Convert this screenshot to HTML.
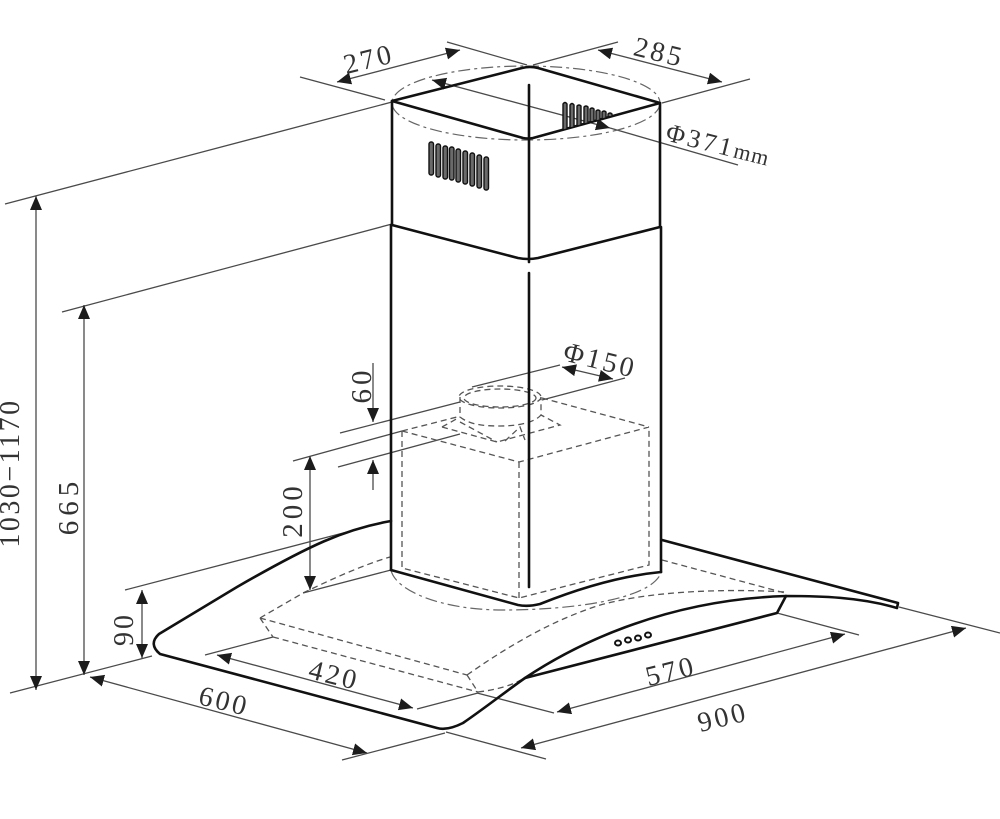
<!DOCTYPE html>
<html><head><meta charset="utf-8"><style>
html,body{margin:0;padding:0;background:#fff}
svg{display:block;filter:blur(0.35px)}
text{font-family:"Liberation Serif","DejaVu Serif",serif;font-size:28px;fill:#333;text-anchor:middle;letter-spacing:3px}
.t{fill:none;stroke:#111;stroke-width:2.6;stroke-linejoin:round;stroke-linecap:round}
.d{fill:none;stroke:#4a4a4a;stroke-width:1.3}
.a{marker-start:url(#ar);marker-end:url(#ar)}
.k{fill:none;stroke:#555;stroke-width:1.3;stroke-dasharray:6 4}
.c{fill:none;stroke:#666;stroke-width:1.2;stroke-dasharray:12 4 3 4}
.s{fill:#6a6a6a;stroke:#111;stroke-width:1.4}
</style></head><body>
<svg width="1000" height="819" viewBox="0 0 1000 819" xmlns="http://www.w3.org/2000/svg">
<defs><marker id="ar" markerUnits="userSpaceOnUse" markerWidth="15" markerHeight="13" refX="14" refY="6" orient="auto-start-reverse"><path d="M0,0L14,6L0,12z" fill="#1c1c1c"/></marker></defs>
<rect width="1000" height="819" fill="#fff"/>

<!-- extension lines -->
<path class="d" d="M300,77L385,100M447,42L527,65M533,65L618,42M662,103L750,79M392,102L5,204M392,224L62,312M10,693L152,656M125,590L347,532M205,655L273,637M417,709L478,693M342,760L445,733M446,732L546,759M477,693L554,713M777,613L859,635M899,607L1000,633M472,387L560,365M542,400L625,378M340,433L460,402M293,461L402,431M338,467L460,434"/>

<!-- dimension arrows -->
<path class="d a" d="M337,82L460,50"/>
<path class="d a" d="M598,50L722,82"/>
<path class="d a" d="M432,80L610,128"/>
<path class="d" d="M610,128L738,165"/>
<path class="d a" d="M36,196L36,690"/>
<path class="d a" d="M84,305L84,675"/>
<path class="d a" d="M310,456L310,590"/>
<path class="d a" d="M142,590L142,658"/>
<path class="d a" d="M90,677L367,753"/>
<path class="d a" d="M217,655L413,708"/>
<path class="d a" d="M557,712L845,634"/>
<path class="d a" d="M521,748L966,628"/>
<path class="d a" d="M562,367L613,379"/>
<path class="d" d="M373,363L373,422" marker-end="url(#ar)"/>
<path class="d" d="M373,490L373,460" marker-end="url(#ar)"/>

<!-- hidden lines -->
<ellipse class="c" cx="526" cy="103" rx="134" ry="37"/>
<path class="c" d="M391,570C395,590 440,610 503,610C570,610 650,600 661,573"/>
<path class="k" d="M402,431L519,462L649,427M402,431L457,417M542,398L649,427M402,431L402,568L519,598L649,565L649,427M519,462L519,598"/>
<ellipse class="k" cx="500" cy="397" rx="41" ry="11"/>
<ellipse class="k" cx="500" cy="398" rx="36" ry="9"/>
<path class="k" d="M460,397L460,417C470,425 485,426 500,426C520,426 535,422 541,415L541,397"/>
<path class="k" d="M442,427L460,417M442,427L497,442L560,425L541,415M460,422L497,442M505,441L520,427L525,440"/>
<path class="k" d="M260,618L467,675M273,637L478,692M260,618L273,637M467,675L478,692M260,618L303,593C330,580 360,566 390,557"/>
<path class="k" d="M478,692C495,690 510,686 521,680"/>
<path class="k" d="M467,675C510,645 550,622 594,607C640,592 720,588 785,592M662,560L785,593"/>
<path class="d" d="M303,593L391,570"/>

<!-- chimney -->
<path class="t" d="M392,101L522,68Q530,66 538,68L660,103L533,138Q528,139 523,138L392,101"/>
<path class="t" d="M392,101L392,224M660,103L660,226"/>
<path class="t" d="M392,225L518,258Q528,260 538,258L660,227"/>
<path class="t" d="M391,225L391,570M661,227L661,572"/>
<path class="t" d="M391,570L518,605Q528,607 540,604C580,588 620,576 661,572"/>
<path class="t" stroke-width="2.2" d="M529,85L529,262M529,273L529,587"/>

<!-- vents -->
<g>
<rect class="s" x="429" y="142" width="4.5" height="33" rx="2"/>
<rect class="s" x="436" y="144" width="4.5" height="33" rx="2"/>
<rect class="s" x="443" y="146" width="4.5" height="33" rx="2"/>
<rect class="s" x="449.500" y="147" width="4.500" height="33" rx="2"/>
<rect class="s" x="456" y="149" width="4.500" height="33" rx="2"/>
<rect class="s" x="463" y="151" width="4.500" height="33" rx="2"/>
<rect class="s" x="470" y="153" width="4.500" height="33" rx="2"/>
<rect class="s" x="477" y="155" width="4.500" height="33" rx="2"/>
<rect class="s" x="484" y="157" width="4.500" height="33" rx="2"/>
<path class="s" d="M563,130V104Q565,101 567,104V129ZM570,128V105Q572,102 574,105V127ZM577,126V106Q579,104 581,106V125ZM584,124V107Q586,105 588,107V123ZM590,122V109Q592,107 594,109V121ZM596,121V111Q598,109 600,111V120ZM602,119V112Q604,110 606,112V118ZM608,117V114Q610,112 612,114V116Z"/>
</g>

<!-- glass and canopy -->
<path class="t" d="M391,521C345,529 310,545 237,587L159,634Q148,644 160,654L437,728Q447,731 463,723C485,708 505,692 525,678C570,648 660,600 786,596C820,596 860,597 897,608L898,603L662,540"/>
<path class="t" d="M786,596L777,613L525,678"/>
<g fill="#fff" stroke="#111" stroke-width="2"><ellipse cx="618" cy="643" rx="3" ry="2.500"/><ellipse cx="628" cy="640" rx="3" ry="2.500"/><ellipse cx="638" cy="638" rx="3" ry="2.500"/><ellipse cx="648" cy="635" rx="3" ry="2.500"/></g>

<!-- labels -->
<text transform="translate(371,68) rotate(-14)">270</text>
<text transform="translate(657,61) rotate(14)">285</text>
<text transform="translate(716,153) rotate(14)" style="font-size:26px;letter-spacing:3px">Φ371<tspan style="font-size:22px;letter-spacing:1px">mm</tspan></text>
<text transform="translate(598,369) rotate(14)" style="letter-spacing:3px">Φ150</text>
<text transform="translate(19,473) rotate(-90)" style="font-size:28px;letter-spacing:2.500px">1030−1170</text>
<text transform="translate(78,506) rotate(-90)" style="font-size:29px;letter-spacing:5px">665</text>
<text transform="translate(302,510) rotate(-90)" style="font-size:29px;letter-spacing:4px">200</text>
<text transform="translate(371,385) rotate(-90)" style="font-size:29px;letter-spacing:4px">60</text>
<text transform="translate(133,629) rotate(-90)">90</text>
<text transform="translate(222,710) rotate(14)">600</text>
<text transform="translate(332,684) rotate(14)">420</text>
<text transform="translate(673,680) rotate(-14)">570</text>
<text transform="translate(725,726) rotate(-14)">900</text>
</svg>
</body></html>
